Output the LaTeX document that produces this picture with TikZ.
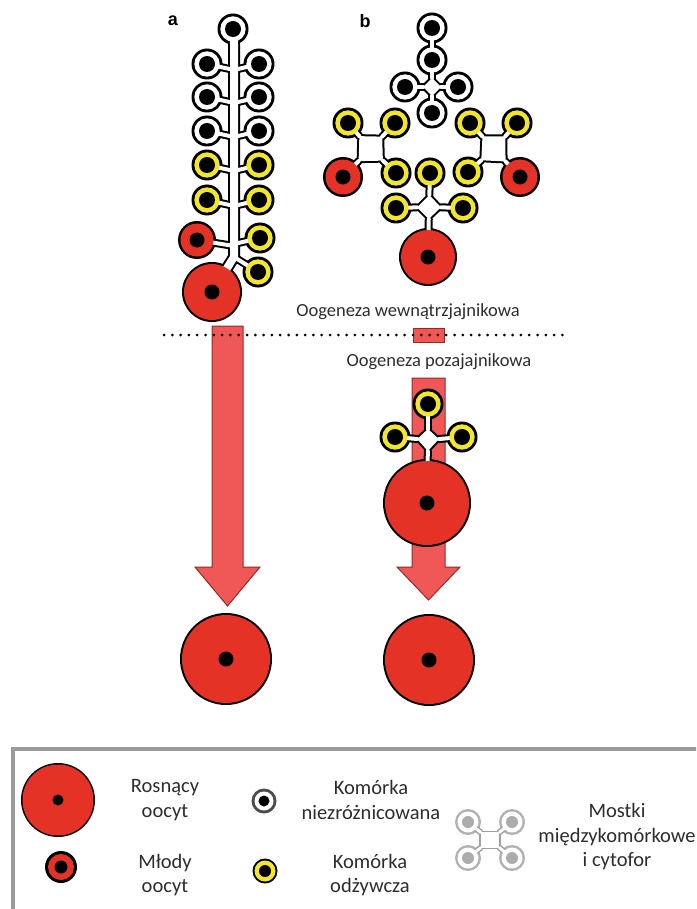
\documentclass[tikz,border=0pt]{standalone}
\usepackage{fontspec}
\setmainfont{Carlito}
\newfontfamily\panelfont{Liberation Sans}
\usetikzlibrary{calc}

\definecolor{cellred}{RGB}{229,50,38}
\definecolor{cellyellow}{RGB}{242,230,45}
\definecolor{arrowfill}{RGB}{240,88,88}
\definecolor{arrowline}{RGB}{150,40,40}
\definecolor{framegray}{RGB}{155,155,155}
\definecolor{textgray}{RGB}{45,45,45}

% cytophore: a small lumen around centre #2 (half-size #3) joined to four cells
\newcommand\cytoshape[7]{%
  \path[#1] ($(#2)!#3!(#4)$) -- ($(#2)!#3!(#5)$) -- ($(#2)!#3!(#6)$) -- ($(#2)!#3!(#7)$) -- cycle;}
\newcommand\cytonecks[7]{%
  \foreach \nm in {#4,#5,#6,#7} {\draw[#1] (\nm) -- ($(#2)!#3!(\nm)$);}}

\begin{document}
\begin{tikzpicture}[x=1pt,y=-1pt,
  neckout/.style={draw=black, line width=8pt, line cap=round},
  neckin/.style={draw=white, line width=4pt, line cap=round},
  lumenout/.style={fill=black, draw=black, line width=4pt, line join=round},
  lumenin/.style={fill=white},
  stemout/.style={draw=black, line width=12pt, line join=round},
  stemin/.style={draw=white, line width=8pt, line join=round},
  blockarrow/.style={fill=arrowfill, draw=arrowline, line width=1pt},
  stage/.style={font=\fontsize{18.5}{22}\selectfont, text=textgray},
  legtext/.style={font=\fontsize{20.5}{24.5}\selectfont, align=center, text=textgray},
  panel/.style={font=\panelfont\bfseries\fontsize{18}{20}\selectfont},
]
\useasboundingbox (0,0) rectangle (696,909);
\clip (0,0) rectangle (696,909);

% ---------- cell positions ----------
% panel a
\coordinate (aw0) at (233,29);
\coordinate (aw1) at (207,64);  \coordinate (aw2) at (259,64);
\coordinate (aw3) at (207,97);  \coordinate (aw4) at (259,97);
\coordinate (aw5) at (207,131); \coordinate (aw6) at (259,131);
\coordinate (ay1) at (207,165); \coordinate (ay2) at (259,165);
\coordinate (ay3) at (207,200); \coordinate (ay4) at (259,200);
\coordinate (ay5) at (260,238); \coordinate (ay6) at (258,272);
\coordinate (ar1) at (197,240);
\coordinate (aR)  at (212,292);
\coordinate (s1)  at (234,44);
\coordinate (s2)  at (234,257);
% panel b, ovary
\coordinate (bw1) at (432,28);
\coordinate (bw2) at (432,60);
\coordinate (bw3) at (405,87);
\coordinate (bw4) at (458,87);
\coordinate (bw5) at (432,113);
\coordinate (bx)  at (432,87);
\coordinate (by1) at (348,123); \coordinate (by2) at (395,123);
\coordinate (by3) at (470,123); \coordinate (by4) at (517,123);
\coordinate (by5) at (396,173); \coordinate (by6) at (430,173);
\coordinate (by7) at (468,172);
\coordinate (by8) at (396,208); \coordinate (by9) at (463,208);
\coordinate (br1) at (343,177); \coordinate (br2) at (520,177);
\coordinate (bR)  at (428,257);
\coordinate (bl)  at (370.5,149);
\coordinate (brc) at (494,149);
\coordinate (bc)  at (429,207);
% panel b, outside the ovary
\coordinate (cy1) at (428,404);
\coordinate (cy2) at (395,437);
\coordinate (cy3) at (462,437);
\coordinate (cc)  at (428,440);
\coordinate (cR)  at (427,503);
% grown oocytes
\coordinate (dR1) at (226,659);
\coordinate (dR2) at (429,660);

% ---------- growth arrows ----------
\path[blockarrow] (212,326) -- (243,326) -- (243,567) -- (260,567) -- (227.5,606)
  -- (195,567) -- (212,567) -- cycle;
\path[blockarrow] (412,378) -- (445,378) -- (445,567) -- (460,567) -- (428.5,600)
  -- (397,567) -- (412,567) -- cycle;
\path[blockarrow] (413,328) rectangle (444,342);
\draw[line width=3pt, line cap=round, dash pattern=on 0pt off 8.3pt] (164,335) -- (566,335);

% ---------- cell walls and bridges (black layer) ----------
\foreach \n/\r in {aw0/15.5,aw1/15.5,aw2/15.5,aw3/15.5,aw4/15.5,aw5/15.5,aw6/15.5,
  ay1/15.5,ay2/15.5,ay3/15.5,ay4/15.5,ay5/15.5,ay6/15.5,ar1/19,aR/30,
  bw1/15.5,bw2/15.5,bw3/15.5,bw4/15.5,bw5/15.5,by1/15.5,by2/15.5,by3/15.5,by4/15.5,by5/15.5,
  by6/15.5,by7/15.5,by8/15.5,by9/15.5,br1/20,br2/20,bR/29,
  cy1/15.5,cy2/15.5,cy3/15.5,cR/44,dR1/46,dR2/46}
  {\fill[black] (\n) circle[radius=\r];}
\draw[stemout] (aw0) -- (s1) -- (s2) -- (aR);
\foreach \n in {aw1,aw2,aw3,aw4,aw5,aw6,ay1,ay2,ay3,ay4,ay5,ar1}
  {\draw[neckout] (\n) -- ($(\n -| s1)+(0,6)$);}
\draw[neckout] (ay6) -- (s2);
\draw[neckout] (bw1) -- (bw2);
\cytoshape{lumenout}{bx}{9pt}{bw2}{bw4}{bw5}{bw3}
\cytonecks{neckout}{bx}{9pt}{bw2}{bw4}{bw5}{bw3}
\cytoshape{lumenout}{bl}{17pt}{by1}{by2}{by5}{br1}
\cytonecks{neckout}{bl}{17pt}{by1}{by2}{by5}{br1}
\cytoshape{lumenout}{brc}{17pt}{by3}{by4}{br2}{by7}
\cytonecks{neckout}{brc}{17pt}{by3}{by4}{br2}{by7}
\cytoshape{lumenout}{bc}{12pt}{by6}{by9}{bR}{by8}
\cytonecks{neckout}{bc}{12pt}{by6}{by9}{bR}{by8}
\cytoshape{lumenout}{cc}{11pt}{cy1}{cy3}{cR}{cy2}
\cytonecks{neckout}{cc}{11pt}{cy1}{cy3}{cR}{cy2}

% ---------- lumens (white layer) ----------
\draw[stemin] (aw0) -- (s1) -- (s2) -- (aR);
\foreach \n in {aw1,aw2,aw3,aw4,aw5,aw6,ay1,ay2,ay3,ay4,ay5,ar1}
  {\draw[neckin] (\n) -- ($(\n -| s1)+(0,6)$);}
\draw[neckin] (ay6) -- (s2);
\draw[neckin] (bw1) -- (bw2);
\cytoshape{lumenin}{bx}{9pt}{bw2}{bw4}{bw5}{bw3}
\cytonecks{neckin}{bx}{9pt}{bw2}{bw4}{bw5}{bw3}
\cytoshape{lumenin}{bl}{17pt}{by1}{by2}{by5}{br1}
\cytonecks{neckin}{bl}{17pt}{by1}{by2}{by5}{br1}
\cytoshape{lumenin}{brc}{17pt}{by3}{by4}{br2}{by7}
\cytonecks{neckin}{brc}{17pt}{by3}{by4}{br2}{by7}
\cytoshape{lumenin}{bc}{12pt}{by6}{by9}{bR}{by8}
\cytonecks{neckin}{bc}{12pt}{by6}{by9}{bR}{by8}
\cytoshape{lumenin}{cc}{11pt}{cy1}{cy3}{cR}{cy2}
\cytonecks{neckin}{cc}{11pt}{cy1}{cy3}{cR}{cy2}

% ---------- cytoplasm ----------
\foreach \n in {aw0,aw1,aw2,aw3,aw4,aw5,aw6,bw1,bw2,bw3,bw4,bw5}
  {\fill[white] (\n) circle[radius=12.7];}
\foreach \n in {ay1,ay2,ay3,ay4,ay5,ay6,by1,by2,by3,by4,by5,by6,by7,by8,by9,cy1,cy2,cy3}
  {\fill[cellyellow] (\n) circle[radius=12.7];}
\foreach \n/\r in {ar1/16.5,br1/17.5,br2/17.5,aR/28,bR/27,cR/42,dR1/44,dR2/44}
  {\fill[cellred] (\n) circle[radius=\r];}

% ---------- nuclei ----------
\foreach \n in {aw0,aw1,aw2,aw3,aw4,aw5,aw6,bw1,bw2,bw3,bw4,bw5,
  ay1,ay2,ay3,ay4,ay5,ay6,by1,by2,by3,by4,by5,by6,by7,by8,by9,cy1,cy2,cy3}
  {\fill[black] (\n) circle[radius=8];}
\foreach \n in {ar1,br1,br2,aR,bR,cR,dR1,dR2}
  {\fill[black] (\n) circle[radius=7.5];}

% ---------- labels ----------
\node[panel] (pa) at (173,21) {a};
\node[panel] (pb) at (365,21) {b};
\node[stage] (intra) at (408,312) {Oogeneza wewnątrzjajnikowa};
\node[stage] (extra) at (439,362) {Oogeneza pozajajnikowa};

% ---------- legend ----------
\fill[white] (13,749) rectangle (720,930);
\draw[framegray, line width=3.5pt] (13,930) -- (13,749) -- (720,749);

\coordinate (lg1) at (58,800);
\fill[black] (lg1) circle[radius=37];
\fill[cellred] (lg1) circle[radius=35.5];
\fill[black] (lg1) circle[radius=5.5];
\coordinate (lg2) at (61,867);
\fill[black] (lg2) circle[radius=16];
\fill[cellred] (lg2) circle[radius=13];
\fill[black] (lg2) circle[radius=6.5];
\coordinate (lg3) at (264,801);
\fill[black!70] (lg3) circle[radius=12.5];
\fill[white] (lg3) circle[radius=9.5];
\fill[black] (lg3) circle[radius=5.5];
\coordinate (lg4) at (265,871);
\fill[black] (lg4) circle[radius=12.5];
\fill[cellyellow] (lg4) circle[radius=10.5];
\fill[black] (lg4) circle[radius=6];

\coordinate (m1) at (468,822); \coordinate (m2) at (512,822);
\coordinate (m3) at (512,858); \coordinate (m4) at (468,858);
\coordinate (mc) at (490,840);
\foreach \n in {m1,m2,m3,m4} {\fill[gray!60] (\n) circle[radius=13];}
\cytoshape{lumenout, draw=gray!75, fill=gray!75, line width=3pt}{mc}{12pt}{m1}{m2}{m3}{m4}
\cytonecks{neckout, draw=gray!75, line width=6pt}{mc}{12pt}{m1}{m2}{m3}{m4}
\cytoshape{lumenin}{mc}{12pt}{m1}{m2}{m3}{m4}
\cytonecks{neckin, line width=3pt}{mc}{12pt}{m1}{m2}{m3}{m4}
\foreach \n in {m1,m2,m3,m4} {\fill[white] (\n) circle[radius=10.5];
  \fill[gray!65] (\n) circle[radius=6];}

\node[legtext] (tgrow)  at (165,800) {Rosnący\\oocyt};
\node[legtext] (tyoung) at (165,875) {Młody\\oocyt};
\node[legtext] (tundif) at (371,800) {Komórka\\niezróżnicowana};
\node[legtext] (tnurse) at (370,875) {Komórka\\odżywcza};
\node[legtext] (tbridge) at (617,837) {Mostki\\międzykomórkowe\\i cytofor};
\end{tikzpicture}
\end{document}
